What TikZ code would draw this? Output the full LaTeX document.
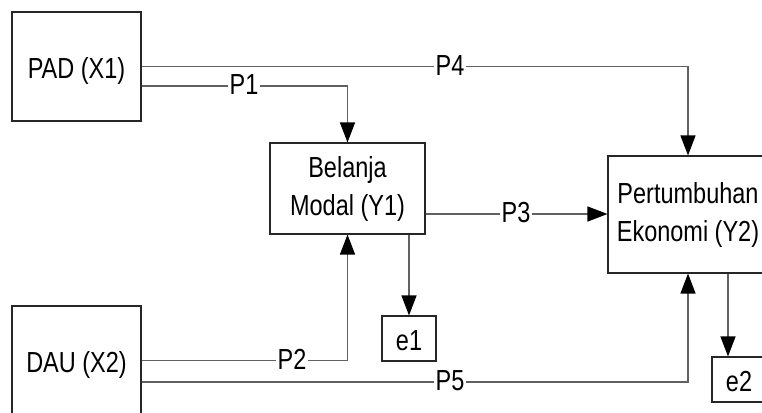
\documentclass[tikz,border=0pt]{standalone}
\usepackage{fontspec}
\setmainfont{Liberation Sans}[FakeStretch=0.81]
\usetikzlibrary{arrows.meta}
\begin{document}
\begin{tikzpicture}[x=1pt,y=-1pt,
  box/.style={draw=black!85,line width=1.1pt,rectangle,inner sep=0pt,align=center,
    font=\fontsize{29}{38}\selectfont},
  conn/.style={draw=black!62,line width=1.2pt},
  arr/.style={conn,-{Triangle[length=20pt,width=15pt,color=black]}},
  plab/.style={fill=white,inner sep=2pt,text height=16pt,text depth=0pt,
    font=\fontsize{29}{38}\selectfont}]
\useasboundingbox (0,0) rectangle (762,412);
\clip (0,0) rectangle (762,412);
\fill[white] (0,0) rectangle (762,412);
% boxes
\node[box,minimum width=129pt,minimum height=109pt,text height=23pt,text depth=0pt] (pad) at (76.5,66.5) {PAD (X1)};
\node[box,minimum width=129pt,minimum height=109pt,text height=23pt,text depth=0pt] (dau) at (76.5,360.5) {DAU (X2)};
\node[box,minimum width=155pt,minimum height=91pt] (bel) at (347.5,188.5) {Belanja\\Modal (Y1)};
\node[box,minimum width=160pt,minimum height=117pt] (pert) at (688,214.5) {Pertumbuhan\\Ekonomi (Y2)};
\node[box,minimum width=54pt,minimum height=45pt,text height=23pt,text depth=0pt] (e1) at (409,338.5) {e1};
\node[box,minimum width=54pt,minimum height=45pt,text height=23pt,text depth=0pt] (e2) at (739,379.5) {e2};
% connectors
\draw[arr] (pad.east) -| (pert.north);
\draw[arr] ([yshift=-19.5pt]pad.east) -| (bel.north);
\draw[arr] ([yshift=-25.5pt]bel.east) coordinate (b3) -- (pert.west |- b3);
\draw[arr] ([xshift=61.5pt]bel.south) coordinate (b1) -- (b1 |- e1.north);
\draw[arr] (dau.east) -| (bel.south);
\draw[arr] ([yshift=-21.5pt]dau.east) -| (pert.south);
\draw[arr] ([xshift=40pt]pert.south) coordinate (c2) -- (c2 |- e2.north);
% path labels
\node[plab] (lp4) at (450,67) {P4};
\node[plab] (lp1) at (244,86) {P1};
\node[plab] (lp3) at (516,214) {P3};
\node[plab] (lp2) at (292,361) {P2};
\node[plab] (lp5) at (450,382) {P5};
\end{tikzpicture}
\end{document}
